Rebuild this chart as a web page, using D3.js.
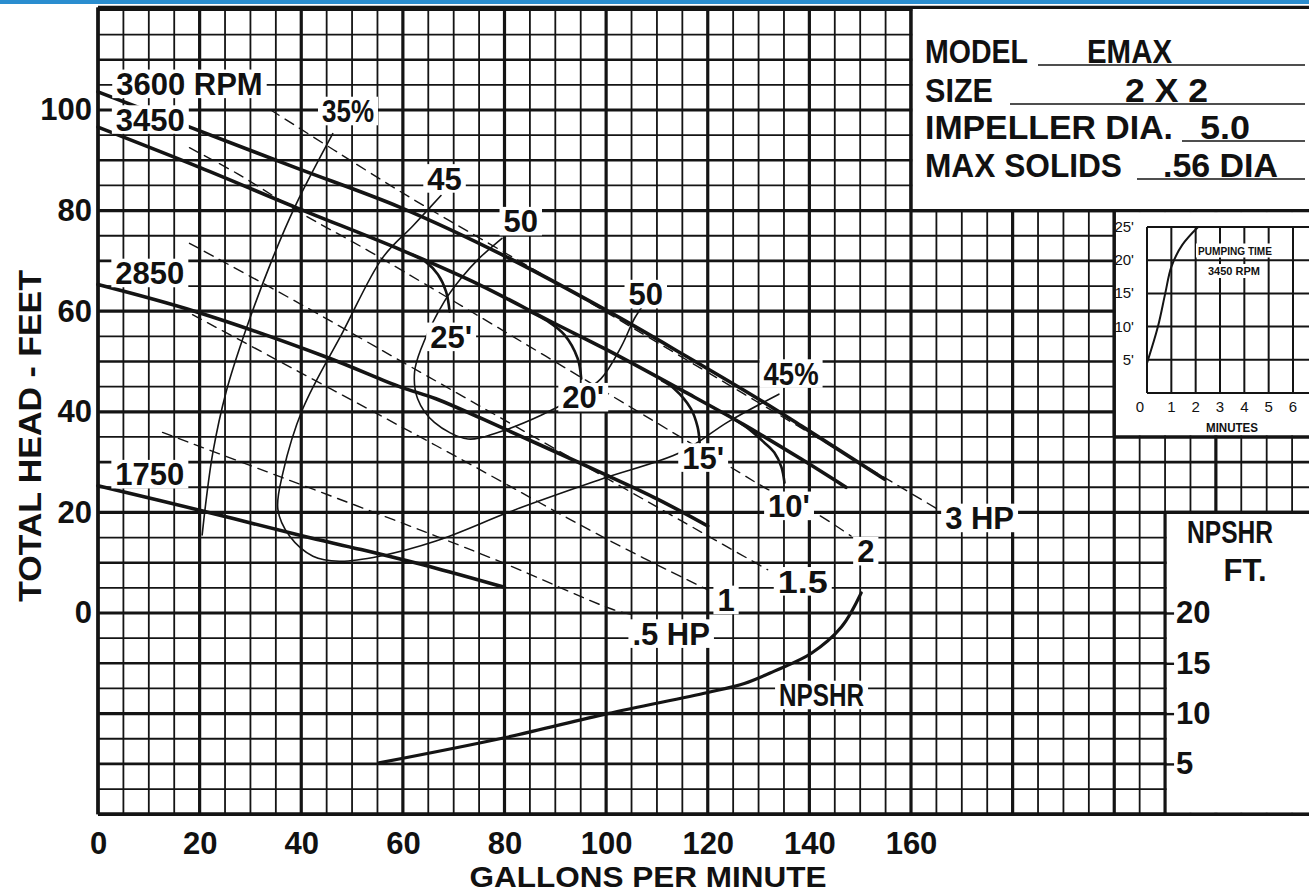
<!DOCTYPE html>
<html><head><meta charset="utf-8">
<script src="https://cdn.jsdelivr.net/npm/d3@7"></script>
<style>
html,body{margin:0;padding:0;background:#fff;}
svg{display:block;}
text{font-family:"Liberation Sans",Arial,Helvetica,sans-serif;font-weight:bold;fill:#111;}
</style></head><body>
<svg id="chart" width="1309" height="895"></svg>
<script>
// ---------- DATA ----------
const gpmTicks = [0,20,40,60,80,100,120,140,160];
const headTicks = [0,20,40,60,80,100];
const npshTicks = [5,10,15,20];
const insetMinTicks = [0,1,2,3,4,5,6];
const insetFtTicks = [5,10,15,20,25];

// head-capacity curves [gpm, ft]
const rpm3600 = [[0,103.6],[17.3,96.9],[39,88.5],[59.6,80.6],[80,71],[100,60.2],[115,51.5],[129.9,42.6],[138.4,37.2],[154.8,26.6]];
const rpm3450 = [[0,96.6],[20,88.6],[39,80.6],[59.6,72.2],[75,65.3],[89.2,57.9],[100,52.4],[115.4,44],[127,37.5],[138.4,30.6],[147.2,25]];
const rpm2850 = [[0,65.3],[19.3,59.9],[44.9,50.9],[59.6,44.9],[66.5,42.6],[80,36.6],[99,27.9],[110,22.7],[120,17.3]];
const rpm1750 = [[0,25.3],[20.6,20.3],[40.3,15.3],[51.8,12.6],[66.5,8.9],[80,5.1]];

// efficiency curves
const eff35 = [[20.5,15.5],[21.3,22.6],[22.6,31.9],[25.2,43.9],[29.1,56.3],[34.4,70.6],[39,81.3],[46.2,95.3]];
const eff45 = [[67.5,83],[62,77],[56,70.6],[48.2,55.9],[40.3,40.6],[36.4,27.9],[35.4,20.6],[37.7,15.3],[42.3,11.3],[47.5,10.3],[55.4,11.3],[66.5,14.3],[82,20.5],[99,26.6],[114.8,32],[124,38],[134,43.5]];
const eff50 = [[79.5,74.5],[75,70.5],[71.5,66.6],[68.2,62],[63.6,52.6],[62.3,47.9],[62.9,42.6],[66.2,37.9],[72.8,34.6],[78.7,35.9],[87.2,39.3],[94,43],[99,46.6],[103,53],[105.6,58.6],[107.5,61.5]];

// suction lift curves
const lift25 = [[62,71.2],[64.5,69.8],[66.9,67.3],[68.5,63.9],[69.2,59.9]];
const lift20 = [[85,59.9],[88.5,58],[91.8,55.3],[94.4,50.6],[95.1,46.6]];
const lift15 = [[111,46.2],[113.4,44.6],[116.7,40.6],[118,37],[118.4,33.9]];
const lift10 = [[124,39.3],[127.8,36.8],[131,34],[133.1,31.9],[134.5,29],[135.1,25.9]];

// horsepower lines
const hp05 = [[12.7,35.9],[66.5,15.3],[80.6,9.6],[101.6,0.6],[105.6,-0.4]];
const hp1  = [[18.6,59.3],[66.5,33.3],[100.3,14.6],[120,4.6]];
const hp15 = [[18,73.5],[39,61.9],[58.7,50.6],[121.3,14.6],[131.8,8.6]];
const hp2  = [[18,92.5],[27.5,87.3],[40.3,79.3],[53.4,71.9],[124,29.3],[131.8,24.6],[141,20],[148.2,15.3]];
const hp3  = [[34,100],[46.5,92],[61.6,82.5],[77.4,73.2],[92.5,64.3],[165.3,20.6]];

// NPSHR [gpm, ft]
const npshr = [[55.3,5.1],[80,7.6],[100.3,10],[120,12.1],[127.2,13],[133,14.2],[140.4,16],[146.3,18.6],[150.2,22]];

// pumping time inset [minutes, ft]
const pumpTime = [[0,4.5],[0.45,10],[0.75,15],[1.0,19],[1.45,22.3],[2.1,25]];

// labels [text, gpm, head]
const curveLabels = [
  ["3600 RPM",18.0,105.2],["3450",10.3,98.1],["2850",10.2,67.6],["1750",10.2,27.6],
  ["35%",49.2,99.8],["45",68.2,86.4],["50",83.2,77.9],["50",107.8,63.4],
  ["25'",69.5,54.9],["20'",95.5,42.9],["15'",119.1,30.9],["10'",136,21.3],["45%",136.4,47.6]
];
const hpLabels = [["3 HP",173.5,18.9],["2",151.1,12.3],["1.5",138.7,6.3],["1",123.6,2.6],[".5 HP",112.8,-4.1]];
const npshrLabel = ["NPSHR",142.4,-16.3];

const infoLabels = ["MODEL","SIZE","IMPELLER DIA.","MAX SOLIDS"];
const infoValues = ["EMAX","2 X 2","5.0",".56 DIA"];

// ---------- DRAW ----------
const W = 1309, H = 895;
const svg = d3.select("#chart");
const x = d3.scaleLinear().domain([0,160]).range([98,911]);
const y = d3.scaleLinear().domain([0,100]).range([613,110]);
const yN = d3.scaleLinear().domain([0,20]).range([y(-40), y(0)]);
const gpmMax = x.invert(W);
const yTop = y(120.4), yBot = y(-40), xL = x(0);
const INK = "#141414";

svg.append("rect").attr("x",0).attr("y",0).attr("width",W).attr("height",4).attr("fill","#2a8dcf");

// grid
const grid = svg.append("g");
d3.range(0, gpmMax, 5).forEach(v => {
  grid.append("line").attr("x1",x(v)).attr("x2",x(v)).attr("y1",yTop).attr("y2",yBot)
    .attr("stroke",INK).attr("stroke-width", v%20===0 ? 3.2 : 1.8);
});
d3.range(-40, 121, 5).forEach(v => {
  grid.append("line").attr("x1",xL).attr("x2",W).attr("y1",y(v)).attr("y2",y(v))
    .attr("stroke",INK).attr("stroke-width", v%20===0 ? 3.2 : (v%10===0 ? 2.6 : 1.8));
});

// white panels
const panels = svg.append("g");
function panel(x0,y0,x1,y1){
  panels.append("rect").attr("x",x0).attr("y",y0).attr("width",x1-x0).attr("height",y1-y0).attr("fill","#fff");
}
panel(x(160)+1.5, yTop+1.5, W, y(80)-1.5);
panel(x(200)+1.5, y(80)+1.5, W, y(35)-1.5);
panel(x(210)+1.5, y(20)+1.5, W, yBot-1.5);
function bline(x1,y1,x2,y2,w){
  panels.append("line").attr("x1",x1).attr("y1",y1).attr("x2",x2).attr("y2",y2).attr("stroke",INK).attr("stroke-width",w);
}
bline(xL,yTop,W,yTop,3.4);
bline(xL,yTop,xL,yBot,3.4);
bline(xL,yBot,W,yBot,3.4);
bline(x(160),yTop,x(160),y(80),3.2);
bline(x(160),y(80),W,y(80),3.4);
bline(x(200),y(80),x(200),y(35),3.2);
bline(x(200),y(35),W,y(35),3.4);
bline(x(210),y(20),x(210),yBot,3.2);
bline(x(210),y(20),W,y(20),3.4);

// curves
const line = d3.line().x(d=>x(d[0])).y(d=>y(d[1])).curve(d3.curveCatmullRom.alpha(0.5));
const curves = svg.append("g").attr("fill","none").attr("stroke",INK).attr("stroke-linecap","round");
[hp05,hp1,hp15,hp2,hp3].forEach(d => curves.append("path").attr("d",line(d)).attr("stroke-width",1.4).attr("stroke-dasharray","10 7"));
[eff35,eff45,eff50].forEach(d => curves.append("path").attr("d",line(d)).attr("stroke-width",1.6));
[lift25,lift20,lift15,lift10].forEach(d => curves.append("path").attr("d",line(d)).attr("stroke-width",2.6));
[rpm3600,rpm3450,rpm2850,rpm1750].forEach(d => curves.append("path").attr("d",line(d)).attr("stroke-width",3.6));
const nline = d3.line().x(d=>x(d[0])).y(d=>yN(d[1])).curve(d3.curveCatmullRom.alpha(0.5));
curves.append("path").attr("d",nline(npshr)).attr("stroke-width",3.2);

// labels with white background
const lab = svg.append("g");
function label(g, txt, cx, cy, opts={}){
  const size = opts.size || 31;
  const half = size*0.364;
  const t = g.append("text").attr("x",cx).attr("y",cy+half).attr("text-anchor","middle")
    .attr("font-size",size).text(txt);
  if (opts.len) t.attr("textLength",opts.len).attr("lengthAdjust","spacingAndGlyphs");
  if (opts.family) t.style("font-family",opts.family);
  if (opts.weight) t.style("font-weight",opts.weight);
  const b = t.node().getBBox();
  const px = opts.padX ?? 4, py = opts.padY ?? 3;
  g.insert("rect", () => t.node()).attr("x",b.x-px).attr("y",cy-half-py)
    .attr("width",b.width+2*px).attr("height",2*half+2*py).attr("fill","#fff");
  return t;
}
const lenMap = {"45%":55,"35%":52,"1.5":50};
curveLabels.concat(hpLabels).forEach(([t,g,h]) => label(lab,t,x(g),y(h),{len:lenMap[t]}));
label(lab,npshrLabel[0],x(npshrLabel[1]),y(npshrLabel[2]),{len:85});

// axes
const fontAxis = g => g.selectAll("text").attr("font-size",31).attr("font-weight","bold")
  .style("font-family","'Liberation Sans',Arial,sans-serif").attr("fill","#111");
const gx = svg.append("g").attr("transform",`translate(0,${yBot})`)
  .call(d3.axisBottom(x).tickValues(gpmTicks).tickSize(0).tickPadding(18).tickFormat(d3.format("d")));
gx.select(".domain").remove(); gx.call(fontAxis);
const gy = svg.append("g").attr("transform",`translate(${xL},0)`)
  .call(d3.axisLeft(y).tickValues(headTicks).tickSize(0).tickPadding(6).tickFormat(d3.format("d")));
gy.select(".domain").remove(); gy.call(fontAxis);
const gn = svg.append("g").attr("transform",`translate(${x(210)},0)`)
  .call(d3.axisRight(yN).tickValues(npshTicks).tickSize(9).tickPadding(2).tickFormat(d3.format("d")));
gn.select(".domain").remove(); gn.call(fontAxis);
gn.selectAll("line").attr("stroke",INK).attr("stroke-width",2.4);

svg.append("text").attr("x",648).attr("y",887).attr("text-anchor","middle").attr("font-size",30)
  .attr("textLength",357).attr("lengthAdjust","spacingAndGlyphs").text("GALLONS PER MINUTE");
svg.append("text").attr("transform","translate(41,436) rotate(-90)").attr("text-anchor","middle").attr("font-size",31)
  .attr("textLength",332).attr("lengthAdjust","spacingAndGlyphs").text("TOTAL HEAD - FEET");
svg.append("text").attr("x",1230).attr("y",543).attr("text-anchor","middle").attr("font-size",31)
  .attr("textLength",86).attr("lengthAdjust","spacingAndGlyphs").text("NPSHR");
svg.append("text").attr("x",1245).attr("y",581).attr("text-anchor","middle").attr("font-size",31).text("FT.");

// info box
const info = svg.append("g");
const infoBase = [63,102,139,177];
const infoLenL = [103,68,248,197];
const infoValX = [1087,1125,1200,1163];
const infoLenV = [85,83,50,115];
const ulX = [1038,1010,1182,1137];
infoLabels.forEach((t,i) => {
  info.append("text").attr("x",925).attr("y",infoBase[i]).attr("font-size",33)
    .attr("textLength",infoLenL[i]).attr("lengthAdjust","spacingAndGlyphs").text(t);
  info.append("text").attr("x",infoValX[i]).attr("y",infoBase[i]).attr("font-size",33)
    .attr("textLength",infoLenV[i]).attr("lengthAdjust","spacingAndGlyphs").text(infoValues[i]);
  info.append("line").attr("x1",ulX[i]).attr("x2",1305).attr("y1",infoBase[i]+2).attr("y2",infoBase[i]+2)
    .attr("stroke",INK).attr("stroke-width",1.6);
});

// inset: pumping time
const xi = d3.scaleLinear().domain([0,6]).range([1147,1293]);
const yi = d3.scaleLinear().domain([0,25]).range([393,227]);
const ins = svg.append("g");
d3.range(0,8).forEach(v => { if (xi(v) <= W) ins.append("line").attr("x1",xi(v)).attr("x2",xi(v)).attr("y1",yi(25)).attr("y2",yi(0)).attr("stroke",INK).attr("stroke-width",2); });
d3.range(0,26,5).forEach(v => ins.append("line").attr("x1",xi(0)).attr("x2",W).attr("y1",yi(v)).attr("y2",yi(v)).attr("stroke",INK).attr("stroke-width",2));
const iline = d3.line().x(d=>xi(d[0])).y(d=>yi(d[1])).curve(d3.curveCatmullRom.alpha(0.5));
ins.append("path").attr("d",iline(pumpTime)).attr("fill","none").attr("stroke",INK).attr("stroke-width",2);
const smallFont = "'Liberation Sans Narrow','Liberation Sans',Arial,sans-serif";
label(ins,"PUMPING TIME",1235,250.5,{size:11,len:74,padX:2,padY:3,family:smallFont});
label(ins,"3450 RPM",1234,271,{size:11,len:52,padX:2,padY:3,family:smallFont});
insetFtTicks.forEach(v => ins.append("text").attr("x",1134).attr("y",yi(v)+5).attr("text-anchor","end")
  .attr("font-size",15).style("font-family",smallFont).style("font-weight","normal").text(v+"'"));
insetMinTicks.forEach(v => ins.append("text").attr("x", v===0 ? 1140 : xi(v)).attr("y",412).attr("text-anchor","middle")
  .attr("font-size",15).style("font-family",smallFont).style("font-weight","normal").text(v));
ins.append("text").attr("x",1232).attr("y",432).attr("text-anchor","middle").attr("font-size",12)
  .attr("textLength",52).attr("lengthAdjust","spacingAndGlyphs").style("font-family",smallFont).text("MINUTES");
</script>
</body></html>
